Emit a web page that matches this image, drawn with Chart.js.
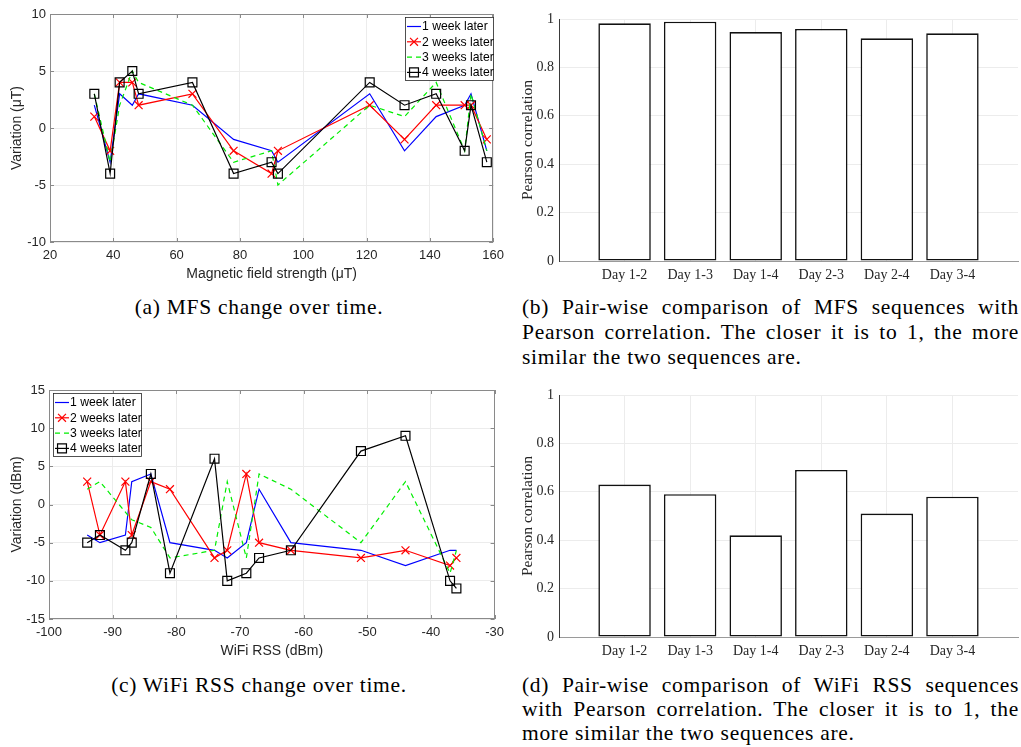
<!DOCTYPE html>
<html><head><meta charset="utf-8">
<script src="https://cdn.jsdelivr.net/npm/chart.js@4.4.0/dist/chart.umd.min.js"></script>
<style>
html,body{margin:0;padding:0;background:#fff;}
body{width:1021px;height:747px;position:relative;overflow:hidden;}
canvas{position:absolute;}
.cap{position:absolute;font-family:"Liberation Serif","Times New Roman",serif;font-size:21.5px;color:#000;line-height:25px;white-space:nowrap;letter-spacing:0.7px;}
.j{text-align:justify;text-align-last:justify;}
</style></head><body>
<canvas id="ca" width="510" height="290" style="left:0;top:0;width:510px;height:290px"></canvas>
<canvas id="cb" width="511" height="290" style="left:510px;top:0;width:511px;height:290px"></canvas>
<canvas id="cc" width="510" height="290" style="left:0;top:375px;width:510px;height:290px"></canvas>
<canvas id="cd" width="511" height="290" style="left:510px;top:375px;width:511px;height:290px"></canvas>

<div class="cap" style="left:0;width:518px;top:295px;text-align:center">(a) MFS change over time.</div>
<div class="cap j" style="left:522px;width:497px;top:295px">(b) Pair-wise comparison of MFS sequences with</div>
<div class="cap j" style="left:522px;width:497px;top:320px">Pearson correlation. The closer it is to 1, the more</div>
<div class="cap" style="left:522px;top:345px">similar the two sequences are.</div>

<div class="cap" style="left:0;width:518px;top:673px;text-align:center">(c) WiFi RSS change over time.</div>
<div class="cap j" style="left:522px;width:497px;top:673px">(d) Pair-wise comparison of WiFi RSS sequences</div>
<div class="cap j" style="left:522px;width:497px;top:697px">with Pearson correlation. The closer it is to 1, the</div>
<div class="cap" style="left:522px;top:721px">more similar the two sequences are.</div>

<script>
// ---------- data ----------
const seriesLabels = ['1 week later', '2 weeks later', '3 weeks later', '4 weeks later'];

const mfsX      = [34, 39, 42, 46, 48, 65, 78, 90, 92, 121, 132, 142, 151, 153, 158];
const mfsWeek1  = [2, -3, 3, 2, 3, 2, -1, -2, -3, 3, -2, 1, 2, 3, -2];
const mfsWeek2  = [1, -2, 4, 4, 2, 3, -2, -4, -2, 2, -1, 2, 2, 2, -1];
const mfsWeek3  = [3, -3, 2, 5, 4, 2, -3, -2, -5, 2, 1, 4, -2, 3, -2];
const mfsWeek4  = [3, -4, 4, 5, 3, 4, -4, -3, -4, 4, 2, 3, -2, 2, -3];

const wifiX     = [-94, -92, -88, -87, -84, -81, -74, -72, -69, -67, -62, -51, -44, -37, -36];
const wifiWeek1 = [-4, -5, -4, 3, 4, -5, -6, -7, -5, 2, -5, -6, -8, -6, -6];
const wifiWeek2 = [3, -4, 3, -4, 3, 2, -7, -6, 4, -5, -6, -7, -6, -8, -7];
const wifiWeek3 = [2, 3, -1, -2, -3, -7, -6, 3, -7, 4, 2, -5, 3, -9, -6];
const wifiWeek4 = [-5, -4, -6, -5, 4, -9, 6, -10, -9, -7, -6, 7, 9, -10, -11];

const dayPairs  = ['Day 1-2', 'Day 1-3', 'Day 1-4', 'Day 2-3', 'Day 2-4', 'Day 3-4'];
const mfsCorr   = [0.982, 0.989, 0.946, 0.959, 0.920, 0.941];
const wifiCorr  = [0.630, 0.590, 0.420, 0.690, 0.510, 0.580];

const mfsYTicks  = [-10, -5, 0, 5, 10];
const wifiYTicks = [-15, -10, -5, 0, 5, 10, 15];
const corrYTicks = [0, 0.2, 0.4, 0.6, 0.8, 1];

// ---------- styling helpers ----------
const SANS = '"Liberation Sans", Arial, Helvetica, sans-serif';
const SERIF = '"Liberation Serif", "Times New Roman", serif';
const GRID = '#ececec';
const AXIS = '#262626';

Chart.defaults.font.family = SANS;
Chart.defaults.color = AXIS;

function drawMarker(ctx, style, x, y, r, color, lw) {
  ctx.save();
  ctx.strokeStyle = color; ctx.lineWidth = lw; ctx.setLineDash([]);
  ctx.beginPath();
  if (style === 'rect') {
    const s = r * Math.SQRT1_2;
    ctx.rect(x - s, y - s, 2 * s, 2 * s);
  } else if (style === 'crossRot') {
    const s = r * Math.SQRT1_2;
    ctx.moveTo(x - s, y - s); ctx.lineTo(x + s, y + s);
    ctx.moveTo(x - s, y + s); ctx.lineTo(x + s, y - s);
  }
  ctx.stroke();
  ctx.restore();
}

const boxPlugin = {
  id: 'boxFrame',
  afterDatasetsDraw(chart, args, opts) {
    if (!opts || !opts.display) return;
    const {ctx, chartArea: a} = chart;
    ctx.save();
    ctx.strokeStyle = opts.color || '#8a8a8a';
    ctx.lineWidth = 1;
    ctx.strokeRect(Math.round(a.left) + 0.5, Math.round(a.top) + 0.5,
                   Math.round(a.right - a.left) - 1, Math.round(a.bottom - a.top) - 1);
    const xs = chart.scales.x, ys = chart.scales.y;
    const tl = 4;
    ctx.beginPath();
    xs.ticks.forEach(t => {
      const px = Math.round(xs.getPixelForValue(t.value)) + 0.5;
      ctx.moveTo(px, a.bottom); ctx.lineTo(px, a.bottom - tl);
      ctx.moveTo(px, a.top); ctx.lineTo(px, a.top + tl);
    });
    ys.ticks.forEach(t => {
      const py = Math.round(ys.getPixelForValue(t.value)) + 0.5;
      ctx.moveTo(a.left, py); ctx.lineTo(a.left + tl, py);
      ctx.moveTo(a.right, py); ctx.lineTo(a.right - tl, py);
    });
    ctx.stroke();
    ctx.restore();
  }
};

const legendPlugin = {
  id: 'boxLegend',
  afterDraw(chart, args, o) {
    if (!o || !o.display) return;
    const ctx = chart.ctx;
    ctx.save();
    ctx.fillStyle = '#fff';
    ctx.fillRect(o.x, o.y, o.w, o.h);
    ctx.strokeStyle = '#262626'; ctx.lineWidth = 0.8;
    ctx.strokeRect(o.x + 0.5, o.y + 0.5, o.w, o.h);
    ctx.font = o.font;
    ctx.textBaseline = 'middle';
    ctx.textAlign = 'left';
    chart.data.datasets.forEach((ds, i) => {
      const cy = o.y + o.first + i * o.row;
      const x0 = o.x + 2, x1 = o.x + 2 + o.lineLen;
      ctx.beginPath();
      ctx.strokeStyle = ds.borderColor; ctx.lineWidth = ds.borderWidth;
      ctx.setLineDash(ds.borderDash || []);
      ctx.moveTo(x0, cy); ctx.lineTo(x1, cy); ctx.stroke();
      ctx.setLineDash([]);
      if (ds.pointRadius > 0) drawMarker(ctx, ds.pointStyle, (x0 + x1) / 2, cy, ds.pointRadius, ds.borderColor, ds.borderWidth);
      ctx.fillStyle = '#000';
      ctx.fillText(ds.label, x1 + 1, cy + 0.5);
    });
    ctx.restore();
  }
};

function lineDatasets(xs, series) {
  const styles = [
    {borderColor: '#0000ff', pointRadius: 0, pointStyle: 'circle', order: 4},
    {borderColor: '#ff0000', pointRadius: 5.6, pointStyle: 'crossRot', order: 3},
    {borderColor: '#00ee00', pointRadius: 0, pointStyle: 'circle', borderDash: [5, 4], order: 2},
    {borderColor: '#000000', pointRadius: 6.3, pointStyle: 'rect', order: 1}
  ];
  return series.map((vals, k) => Object.assign({
    label: seriesLabels[k],
    data: xs.map((x, i) => ({x: x, y: vals[i]})),
    borderWidth: 1.2,
    pointBorderWidth: 1.2,
    pointBackgroundColor: 'rgba(0,0,0,0)',
    pointBorderColor: styles[k].borderColor,
    pointHoverRadius: 0,
    tension: 0,
    fill: false
  }, styles[k]));
}

function lineChart(id, xs, series, cfg) {
  return new Chart(document.getElementById(id), {
    type: 'line',
    data: {datasets: lineDatasets(xs, series)},
    plugins: [boxPlugin, legendPlugin],
    options: {
      responsive: false, animation: false, devicePixelRatio: 1,
      layout: {padding: cfg.padding},
      plugins: {
        legend: {display: false}, tooltip: {enabled: false},
        boxFrame: {display: true, color: '#8a8a8a'},
        boxLegend: Object.assign({display: true, font: '12.2px ' + SANS, lineLen: 14, row: 15.3, first: 9.5}, cfg.legend)
      },
      scales: {
        x: {
          type: 'linear', min: cfg.xMin, max: cfg.xMax,
          ticks: {stepSize: cfg.xStep, font: {size: 13}, color: AXIS, padding: cfg.xTickPad, maxRotation: 0, autoSkip: false},
          grid: {color: GRID, drawTicks: false},
          border: {display: false},
          title: {display: true, text: cfg.xTitle, font: {size: 14}, color: AXIS, padding: {top: 0, bottom: cfg.xTitlePad}},
          afterFit: s => { s.height = cfg.xH; }
        },
        y: {
          type: 'linear', min: cfg.yTicks[0], max: cfg.yTicks[cfg.yTicks.length - 1],
          afterBuildTicks: s => { s.ticks = cfg.yTicks.map(v => ({value: v})); },
          ticks: {font: {size: 13}, color: AXIS, padding: 4},
          grid: {color: GRID, drawTicks: false},
          border: {display: false},
          title: {display: true, text: cfg.yTitle, font: {size: 14}, color: AXIS, padding: {top: cfg.yTitlePad, bottom: 0}},
          afterFit: s => { s.width = cfg.yW; }
        }
      }
    }
  });
}

function barChart(id, vals, cfg) {
  return new Chart(document.getElementById(id), {
    type: 'bar',
    data: {datasets: [{
      label: 'Pearson correlation',
      data: vals.map((v, i) => ({x: i + 1, y: v})),
      backgroundColor: '#ffffff', borderColor: '#111111', borderWidth: 1.6,
      borderSkipped: false, barPercentage: 0.8, categoryPercentage: 1.0
    }]},
    options: {
      responsive: false, animation: false, devicePixelRatio: 1,
      layout: {padding: cfg.padding},
      plugins: {legend: {display: false}, tooltip: {enabled: false}},
      scales: {
        x: {
          type: 'linear', min: 0, max: dayPairs.length + 1, offset: false,
          afterBuildTicks: s => { s.ticks = dayPairs.map((d, i) => ({value: i + 1})); },
          ticks: {font: {family: SERIF, size: 14}, color: AXIS, padding: cfg.xTickPad, maxRotation: 0, autoSkip: false,
                  callback: v => dayPairs[Math.round(v) - 1] || ''},
          grid: {color: GRID, drawTicks: false, offset: false},
          border: {display: true, color: '#9a9a9a', width: 1},
          afterFit: s => { s.height = cfg.xH; }
        },
        y: {
          type: 'linear', min: 0, max: 1,
          afterBuildTicks: s => { s.ticks = corrYTicks.map(v => ({value: v})); },
          ticks: {font: {family: SERIF, size: 14}, color: AXIS, padding: 5,
                  callback: v => String(Math.round(v * 10) / 10)},
          grid: {color: GRID, drawTicks: false},
          border: {display: true, color: '#3a3a3a', width: 1},
          title: {display: true, text: 'Pearson correlation', font: {family: SERIF, size: 15.5}, color: AXIS, padding: {top: cfg.yTitlePad, bottom: 0}},
          afterFit: s => { s.width = cfg.yW; }
        }
      }
    }
  });
}

lineChart('ca', mfsX, [mfsWeek1, mfsWeek2, mfsWeek3, mfsWeek4], {
  padding: {left: 0, top: 14, right: 13, bottom: 0},
  xMin: 20, xMax: 160, xStep: 20, yTicks: mfsYTicks,
  xTitle: 'Magnetic field strength (\u03bcT)', yTitle: 'Variation (\u03bcT)',
  xH: 48, yW: 50, xTickPad: 6, xTitlePad: 7.6, yTitlePad: 8.6,
  legend: {x: 405, y: 17, w: 88, h: 63}
});

lineChart('cc', wifiX, [wifiWeek1, wifiWeek2, wifiWeek3, wifiWeek4], {
  padding: {left: 0, top: 15, right: 12, bottom: 0},
  xMin: -100, xMax: -30, xStep: 10, yTicks: wifiYTicks,
  xTitle: 'WiFi RSS (dBm)', yTitle: 'Variation (dBm)',
  xH: 46, yW: 49, xTickPad: 6, xTitlePad: 5.9, yTitlePad: 8.6,
  legend: {x: 53, y: 18, w: 88, h: 63}
});

barChart('cb', mfsCorr, {
  padding: {left: 0, top: 19, right: 3, bottom: 0},
  xH: 29, yW: 49, xTickPad: 6, yTitlePad: 9
});

barChart('cd', wifiCorr, {
  padding: {left: 0, top: 20, right: 3, bottom: 0},
  xH: 28, yW: 49, xTickPad: 6, yTitlePad: 9
});
</script>
</body></html>
